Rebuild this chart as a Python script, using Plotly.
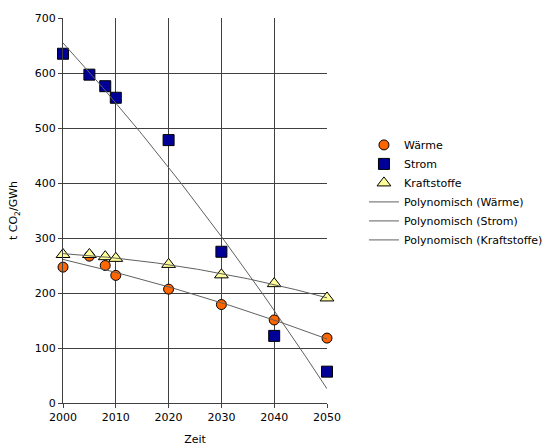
import numpy as np
import plotly.graph_objects as go

# Emission factors (t CO2 per GWh) by year
years_waerme = [2000, 2005, 2008, 2010, 2020, 2030, 2040, 2050]
waerme = [247, 267, 250, 232, 207, 179, 151, 118]

years_strom = [2000, 2005, 2008, 2010, 2020, 2030, 2040, 2050]
strom = [635, 597, 576, 555, 478, 275, 122, 57]

years_kraft = [2000, 2005, 2008, 2010, 2020, 2030, 2040, 2050]
kraft = [270, 270, 266, 263, 252, 233, 217, 191]

x_ticks = [2000, 2010, 2020, 2030, 2040, 2050]
y_ticks = [0, 100, 200, 300, 400, 500, 600, 700]

FONT = "DejaVu Sans"


def poly_trend(xs, ys, deg=2):
    xs = np.asarray(xs, float)
    ys = np.asarray(ys, float)
    c = np.polyfit(xs - 2000, ys, deg)
    xx = np.linspace(2000, 2050, 101)
    return xx, np.polyval(c, xx - 2000)


fig = go.Figure()

fig.add_trace(go.Scatter(
    x=years_waerme, y=waerme, mode="markers", name="Wärme", cliponaxis=False,
    marker=dict(symbol="circle", size=10, color="#FF6600",
                line=dict(color="#000000", width=1)),
))
fig.add_trace(go.Scatter(
    x=years_strom, y=strom, mode="markers", name="Strom", cliponaxis=False,
    marker=dict(symbol="square", size=11, color="#000099",
                line=dict(color="#000000", width=1)),
))
fig.add_trace(go.Scatter(
    x=years_kraft, y=kraft, mode="markers", name="Kraftstoffe", cliponaxis=False,
    marker=dict(symbol="triangle-up", size=12, color="#FFFF99",
                line=dict(color="#000000", width=1)),
))

for label, xs, ys in [("Polynomisch (Wärme)", years_waerme, waerme),
                      ("Polynomisch (Strom)", years_strom, strom),
                      ("Polynomisch (Kraftstoffe)", years_kraft, kraft)]:
    tx, ty = poly_trend(xs, ys)
    fig.add_trace(go.Scatter(
        x=tx, y=ty, mode="lines", name=label,
        line=dict(color="#606060", width=1),
    ))

fig.update_layout(
    width=550, height=448,
    margin=dict(l=63, r=223, t=18, b=45, autoexpand=False),
    paper_bgcolor="white", plot_bgcolor="white",
    font=dict(family=FONT, size=11, color="black"),
    showlegend=True,
    legend=dict(x=1.14, y=0.708, xanchor="left", yanchor="top",
                font=dict(family=FONT, size=11, color="black"),
                bgcolor="rgba(0,0,0,0)", tracegroupgap=0, itemwidth=30),
)

fig.update_xaxes(
    range=[2000, 2050], tickvals=x_ticks, ticktext=[str(v) for v in x_ticks],
    showgrid=True, gridcolor="#404040", gridwidth=1,
    showline=True, linecolor="#404040", linewidth=1, mirror=False,
    ticks="outside", ticklen=4, tickcolor="#404040",
    zeroline=False,
    title=dict(text="Zeit", font=dict(family=FONT, size=11), standoff=12),
)
fig.update_yaxes(
    range=[0, 700], tickvals=y_ticks, ticktext=[str(v) for v in y_ticks],
    showgrid=True, gridcolor="#404040", gridwidth=1,
    showline=True, linecolor="#404040", linewidth=1,
    ticks="outside", ticklen=4, tickcolor="#404040",
    zeroline=False,
    title=dict(text="t CO<sub>2</sub>/GWh", font=dict(family=FONT, size=11), standoff=14),
)

fig.write_html("out.html")
